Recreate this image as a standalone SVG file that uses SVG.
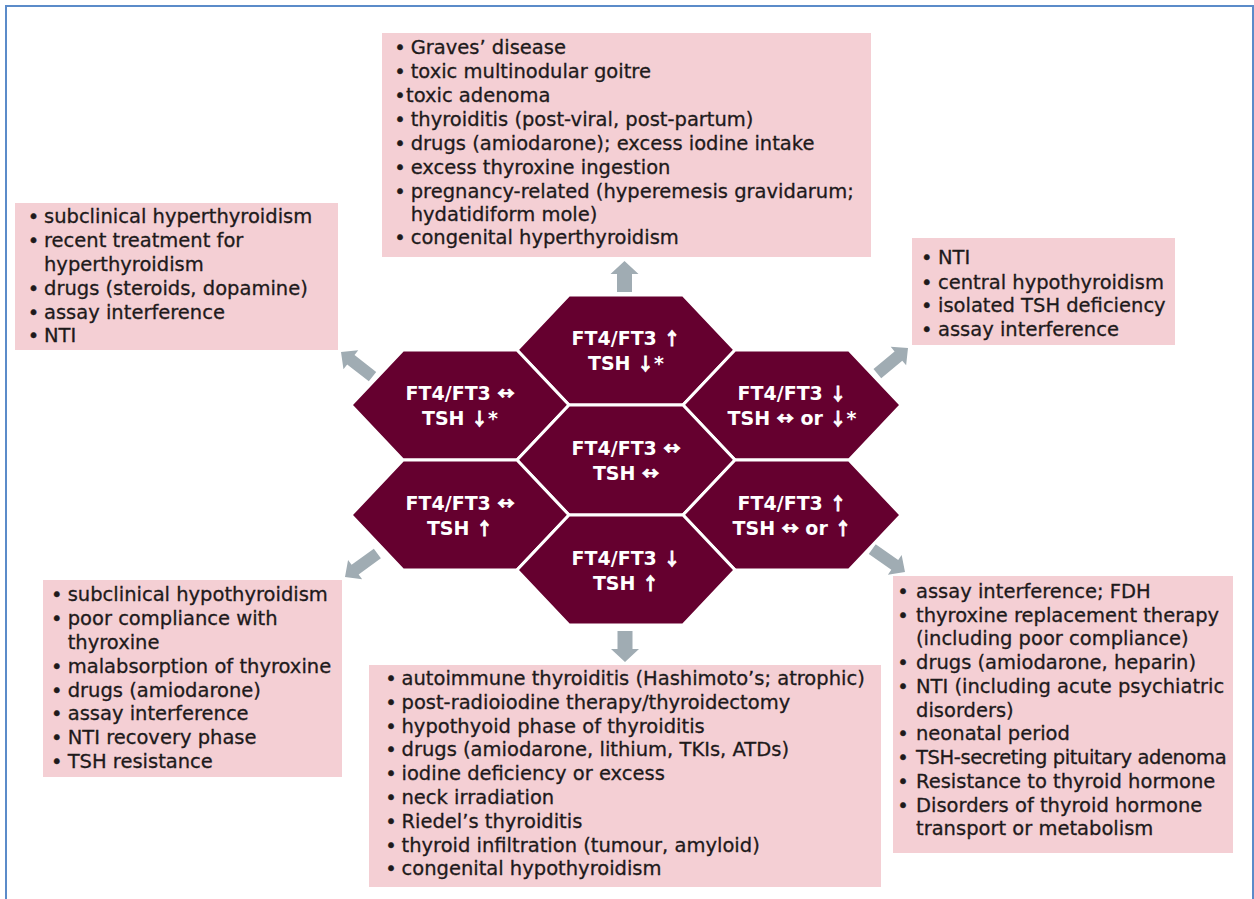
<svg xmlns="http://www.w3.org/2000/svg" xmlns:xlink="http://www.w3.org/1999/xlink" width="1254" height="899" viewBox="0 0 1254 899">
<defs>
<style>
.frame{fill:none;stroke:#5b8bc9;stroke-width:2}
.box{fill:#f4cfd4}
.hex{fill:#65002f;stroke:#ffffff;stroke-width:3;stroke-linejoin:miter}
.ht{font-family:'DejaVu Sans',sans-serif;font-weight:bold;font-size:19px;fill:#ffffff;text-anchor:middle}
.ar{font-family:'Noto Sans CJK JP','DejaVu Sans',sans-serif;font-weight:bold;font-size:17px;stroke:#ffffff;stroke-width:0.8px}
.bt{font-family:'DejaVu Sans',sans-serif;font-size:19.5px;fill:#1e1a1b;stroke:#1e1a1b;stroke-width:0.3px}
.arr{fill:#a0acb3}
</style>
<path id="arrV" d="M0,0 L14,13 L7.5,13 L7.5,31 L-7.5,31 L-7.5,13 L-14,13 Z"/>
<path id="arrD" d="M0,0 L12,12.5 L6,12.5 L6,40 L-6,40 L-6,12.5 L-12,12.5 Z"/>
</defs>
<rect width="1254" height="899" fill="#ffffff"/>
<rect class="frame" x="6" y="6" width="1247" height="900"/>

<g id="connectors" class="arr">
<use xlink:href="#arrV" transform="translate(624.5,261)"/>
<use xlink:href="#arrV" transform="translate(625,662) rotate(180)"/>
<use xlink:href="#arrD" transform="translate(341,352) rotate(-52)"/>
<use xlink:href="#arrD" transform="translate(908,348) rotate(50)"/>
<use xlink:href="#arrD" transform="translate(345,577) rotate(-126)"/>
<use xlink:href="#arrD" transform="translate(905,572) rotate(125)"/>
</g>

<g id="hex-top">
<polygon class="hex" points="569,295 683,295 735,350 683,405 569,405 517,350"/>
<text class="ht"><tspan x="626" y="345.4">FT4/FT3 </tspan><tspan class="ar">↑</tspan><tspan x="626" y="369.6">TSH </tspan><tspan class="ar">↓</tspan><tspan>*</tspan></text>
</g>
<g id="hex-upper-left">
<polygon class="hex" points="403,350 517,350 569,405 517,460 403,460 351,405"/>
<text class="ht"><tspan x="460" y="400.4">FT4/FT3 </tspan><tspan class="ar">↔</tspan><tspan x="460" y="424.6">TSH </tspan><tspan class="ar">↓</tspan><tspan>*</tspan></text>
</g>
<g id="hex-upper-right">
<polygon class="hex" points="735,350 849,350 901,405 849,460 735,460 683,405"/>
<text class="ht"><tspan x="792" y="400.4">FT4/FT3 </tspan><tspan class="ar">↓</tspan><tspan x="792" y="424.6">TSH </tspan><tspan class="ar">↔</tspan><tspan> or </tspan><tspan class="ar">↓</tspan><tspan>*</tspan></text>
</g>
<g id="hex-center">
<polygon class="hex" points="569,405 683,405 735,460 683,515 569,515 517,460"/>
<text class="ht"><tspan x="626" y="455.4">FT4/FT3 </tspan><tspan class="ar">↔</tspan><tspan x="626" y="479.6">TSH </tspan><tspan class="ar">↔</tspan></text>
</g>
<g id="hex-lower-left">
<polygon class="hex" points="403,460 517,460 569,515 517,570 403,570 351,515"/>
<text class="ht"><tspan x="460" y="510.4">FT4/FT3 </tspan><tspan class="ar">↔</tspan><tspan x="460" y="534.6">TSH </tspan><tspan class="ar">↑</tspan></text>
</g>
<g id="hex-lower-right">
<polygon class="hex" points="735,460 849,460 901,515 849,570 735,570 683,515"/>
<text class="ht"><tspan x="792" y="510.4">FT4/FT3 </tspan><tspan class="ar">↑</tspan><tspan x="792" y="534.6">TSH </tspan><tspan class="ar">↔</tspan><tspan> or </tspan><tspan class="ar">↑</tspan></text>
</g>
<g id="hex-bottom">
<polygon class="hex" points="569,515 683,515 735,570 683,625 569,625 517,570"/>
<text class="ht"><tspan x="626" y="565.4">FT4/FT3 </tspan><tspan class="ar">↓</tspan><tspan x="626" y="589.6">TSH </tspan><tspan class="ar">↑</tspan></text>
</g>

<g id="box-top">
<rect class="box" x="382" y="33" width="489" height="224"/>
<text class="bt"><tspan x="394.3" y="54.3">•</tspan><tspan x="410.7">Graves’ disease</tspan><tspan x="394.3" y="78.3">•</tspan><tspan x="410.7">toxic multinodular goitre</tspan><tspan x="394.3" y="102">•</tspan><tspan x="406">toxic adenoma</tspan><tspan x="394.3" y="126">•</tspan><tspan x="410.7">thyroiditis (post-viral, post-partum)</tspan><tspan x="394.3" y="150">•</tspan><tspan x="410.7">drugs (amiodarone); excess iodine intake</tspan><tspan x="394.3" y="173.7">•</tspan><tspan x="410.7">excess thyroxine ingestion</tspan><tspan x="394.3" y="197.7">•</tspan><tspan x="410.7">pregnancy-related (hyperemesis gravidarum;</tspan><tspan x="410.7" y="221">hydatidiform mole)</tspan><tspan x="394.3" y="244.3">•</tspan><tspan x="410.7">congenital hyperthyroidism</tspan></text>
</g>

<g id="box-upper-left">
<rect class="box" x="15" y="203" width="323" height="147"/>
<text class="bt"><tspan x="27.8" y="223">•</tspan><tspan x="44">subclinical hyperthyroidism</tspan><tspan x="27.8" y="247">•</tspan><tspan x="44">recent treatment for</tspan><tspan x="44" y="271">hyperthyroidism</tspan><tspan x="27.8" y="294.5">•</tspan><tspan x="44">drugs (steroids, dopamine)</tspan><tspan x="27.8" y="318.5">•</tspan><tspan x="44">assay interference</tspan><tspan x="27.8" y="342">•</tspan><tspan x="44">NTI</tspan></text>
</g>

<g id="box-upper-right">
<rect class="box" x="912" y="238" width="263" height="107"/>
<text class="bt"><tspan x="921" y="264.3">•</tspan><tspan x="938">NTI</tspan><tspan x="921" y="288.7">•</tspan><tspan x="938">central hypothyroidism</tspan><tspan x="921" y="312">•</tspan><tspan x="938">isolated TSH deficiency</tspan><tspan x="921" y="336">•</tspan><tspan x="938">assay interference</tspan></text>
</g>

<g id="box-lower-left">
<rect class="box" x="43" y="580" width="299" height="197"/>
<text class="bt"><tspan x="51" y="601">•</tspan><tspan x="67.7">subclinical hypothyroidism</tspan><tspan x="51" y="625.3">•</tspan><tspan x="67.7">poor compliance with</tspan><tspan x="67.7" y="648.7">thyroxine</tspan><tspan x="51" y="672.7">•</tspan><tspan x="67.7">malabsorption of thyroxine</tspan><tspan x="51" y="696.7">•</tspan><tspan x="67.7">drugs (amiodarone)</tspan><tspan x="51" y="720.3">•</tspan><tspan x="67.7">assay interference</tspan><tspan x="51" y="744.3">•</tspan><tspan x="67.7">NTI recovery phase</tspan><tspan x="51" y="767.7">•</tspan><tspan x="67.7">TSH resistance</tspan></text>
</g>

<g id="box-bottom">
<rect class="box" x="369" y="665" width="512" height="222"/>
<text class="bt"><tspan x="385.3" y="685">•</tspan><tspan x="401.5">autoimmune thyroiditis (Hashimoto’s; atrophic)</tspan><tspan x="385.3" y="708.8">•</tspan><tspan x="401.5">post-radioiodine therapy/thyroidectomy</tspan><tspan x="385.3" y="732.6">•</tspan><tspan x="401.5">hypothyoid phase of thyroiditis</tspan><tspan x="385.3" y="756.4">•</tspan><tspan x="401.5">drugs (amiodarone, lithium, TKIs, ATDs)</tspan><tspan x="385.3" y="780.2">•</tspan><tspan x="401.5">iodine deficiency or excess</tspan><tspan x="385.3" y="804">•</tspan><tspan x="401.5">neck irradiation</tspan><tspan x="385.3" y="827.8">•</tspan><tspan x="401.5">Riedel’s thyroiditis</tspan><tspan x="385.3" y="851.6">•</tspan><tspan x="401.5">thyroid infiltration (tumour, amyloid)</tspan><tspan x="385.3" y="875.4">•</tspan><tspan x="401.5">congenital hypothyroidism</tspan></text>
</g>

<g id="box-lower-right">
<rect class="box" x="893" y="576" width="340" height="277"/>
<text class="bt"><tspan x="897.3" y="597.7">•</tspan><tspan x="916">assay interference; FDH</tspan><tspan x="897.3" y="622">•</tspan><tspan x="916">thyroxine replacement therapy</tspan><tspan x="916" y="645.3">(including poor compliance)</tspan><tspan x="897.3" y="669.3">•</tspan><tspan x="916">drugs (amiodarone, heparin)</tspan><tspan x="897.3" y="693.3">•</tspan><tspan x="916">NTI (including acute psychiatric</tspan><tspan x="916" y="716.7">disorders)</tspan><tspan x="897.3" y="740">•</tspan><tspan x="916">neonatal period</tspan><tspan x="897.3" y="764.3">•</tspan><tspan x="916" letter-spacing="-0.4">TSH-secreting pituitary adenoma</tspan><tspan x="897.3" y="787.7">•</tspan><tspan x="916">Resistance to thyroid hormone</tspan><tspan x="897.3" y="811.7">•</tspan><tspan x="916">Disorders of thyroid hormone</tspan><tspan x="916" y="835.3">transport or metabolism</tspan></text>
</g>
</svg>
